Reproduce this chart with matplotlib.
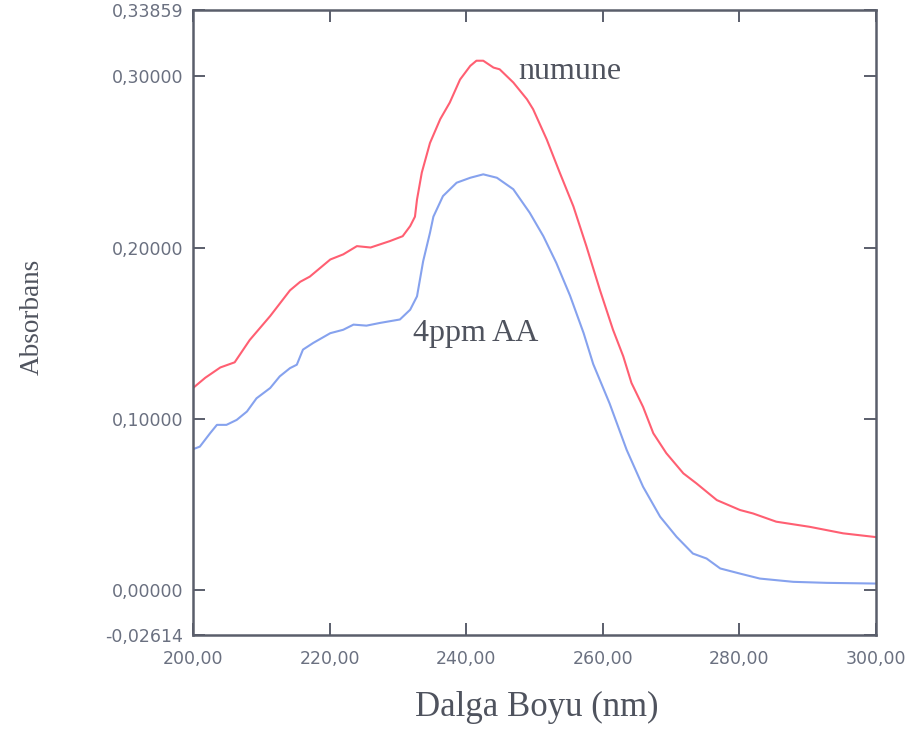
import matplotlib
matplotlib.use('Agg')
import matplotlib.pyplot as plt
import numpy as np

# Absorbance spectra (wavelength in nm, absorbance)
wl_numune = [200, 201.8, 204, 206.1, 208.3, 211.3, 214.2, 215.7, 217.1, 220.1,
             222, 224, 226, 228.8, 230.7, 231.8, 232.5, 232.8, 233.5, 234.7,
             236.2, 237.6, 239.1, 240.6, 241.5, 242.5, 244, 244.9, 246.9, 248.9,
             249.8, 251.8, 253.7, 255.7, 257.6, 259.6, 261.5, 263, 264.2, 265.9,
             267.4, 269.3, 271.8, 273.7, 276.7, 280.1, 282, 285.4, 290.3, 295.2, 300]
abs_numune = [0.118, 0.124, 0.130, 0.133, 0.146, 0.160, 0.175, 0.180, 0.183, 0.193,
              0.196, 0.2008, 0.200, 0.2037, 0.2066, 0.2125, 0.218, 0.228, 0.2437, 0.261,
              0.2749, 0.2846, 0.298, 0.306, 0.309, 0.309, 0.305, 0.304, 0.2963, 0.2865,
              0.2807, 0.263, 0.2437, 0.224, 0.2008, 0.175, 0.152, 0.1365, 0.121, 0.107,
              0.0916, 0.080, 0.0682, 0.0624, 0.0526, 0.0468, 0.0448, 0.040, 0.037, 0.0332, 0.031]

wl_aa = [200, 201, 202.5, 203.5, 204.9, 206.4, 207.9, 209.3, 211.3, 212.7,
         214.2, 215.2, 216.1, 217.6, 220.1, 222, 223.5, 225.4, 227.4, 230.3,
         231.8, 232.8, 233.7, 234.7, 235.2, 236.6, 238.6, 240.6, 242.5, 244.5,
         246.9, 249.3, 251.3, 253.2, 255.2, 257.2, 258.6, 261, 263.5, 265.9,
         268.4, 270.8, 273.2, 275.2, 277.2, 280.1, 283, 287.9, 292.8, 300]
abs_aa = [0.0823, 0.0838, 0.0916, 0.0965, 0.0965, 0.0994, 0.1043, 0.112, 0.118, 0.1248,
          0.1296, 0.1316, 0.1404, 0.1443, 0.150, 0.152, 0.155, 0.1544, 0.156, 0.158,
          0.1637, 0.1715, 0.192, 0.2086, 0.218, 0.230, 0.2378, 0.2407, 0.2427, 0.2407,
          0.234, 0.2203, 0.2066, 0.191, 0.172, 0.150, 0.132, 0.109, 0.0819, 0.0604,
          0.0429, 0.0312, 0.0214, 0.0185, 0.0127, 0.0097, 0.0068, 0.0049, 0.0043, 0.0039]

x_ticks = [200, 220, 240, 260, 280, 300]
y_ticks = [-0.02614, 0.0, 0.1, 0.2, 0.3, 0.33859]

frame_col = '#5a5e6b'
tick_col = '#6a7080'
text_col = '#4f535e'

fig = plt.figure(figsize=(9.13, 7.31), dpi=100)
ax = fig.add_axes([0.2114, 0.1313, 0.748, 0.855])

ax.plot(wl_numune, abs_numune, color='#ff5f72', lw=1.5)
ax.plot(wl_aa, abs_aa, color='#86a2ee', lw=1.5)

ax.set_xlim(200, 300)
ax.set_ylim(-0.02614, 0.33859)

ax.set_xticks(x_ticks)
ax.set_xticklabels([f'{v:.2f}'.replace('.', ',') for v in x_ticks])
ax.set_yticks(y_ticks)
ax.set_yticklabels([f'{v:.5f}'.replace('.', ',') for v in y_ticks])

ax.tick_params(direction='in', length=8.5, width=1.4, color=frame_col,
               top=True, right=True, labelsize=12.5, labelcolor=tick_col)
ax.tick_params(axis='y', pad=7)
ax.tick_params(axis='x', pad=11)
for s in ax.spines.values():
    s.set_color(frame_col)
    s.set_linewidth(1.8)

serif = ['Liberation Serif', 'DejaVu Serif']
ax.set_xlabel('Dalga Boyu (nm)', family=serif, fontsize=25, color=text_col)
ax.set_ylabel('Absorbans', family=serif, fontsize=19.5, color=text_col)
ax.xaxis.set_label_coords(0.504, -0.09)
ax.yaxis.set_label_coords(-0.217, 0.509)

ax.text(247.6, 0.303, 'numune', family=serif, fontsize=23, color=text_col,
        ha='left', va='center')
ax.text(232.2, 0.150, '4ppm AA', family=serif, fontsize=23, color=text_col,
        ha='left', va='center')

fig.savefig('out.png', dpi=100)
